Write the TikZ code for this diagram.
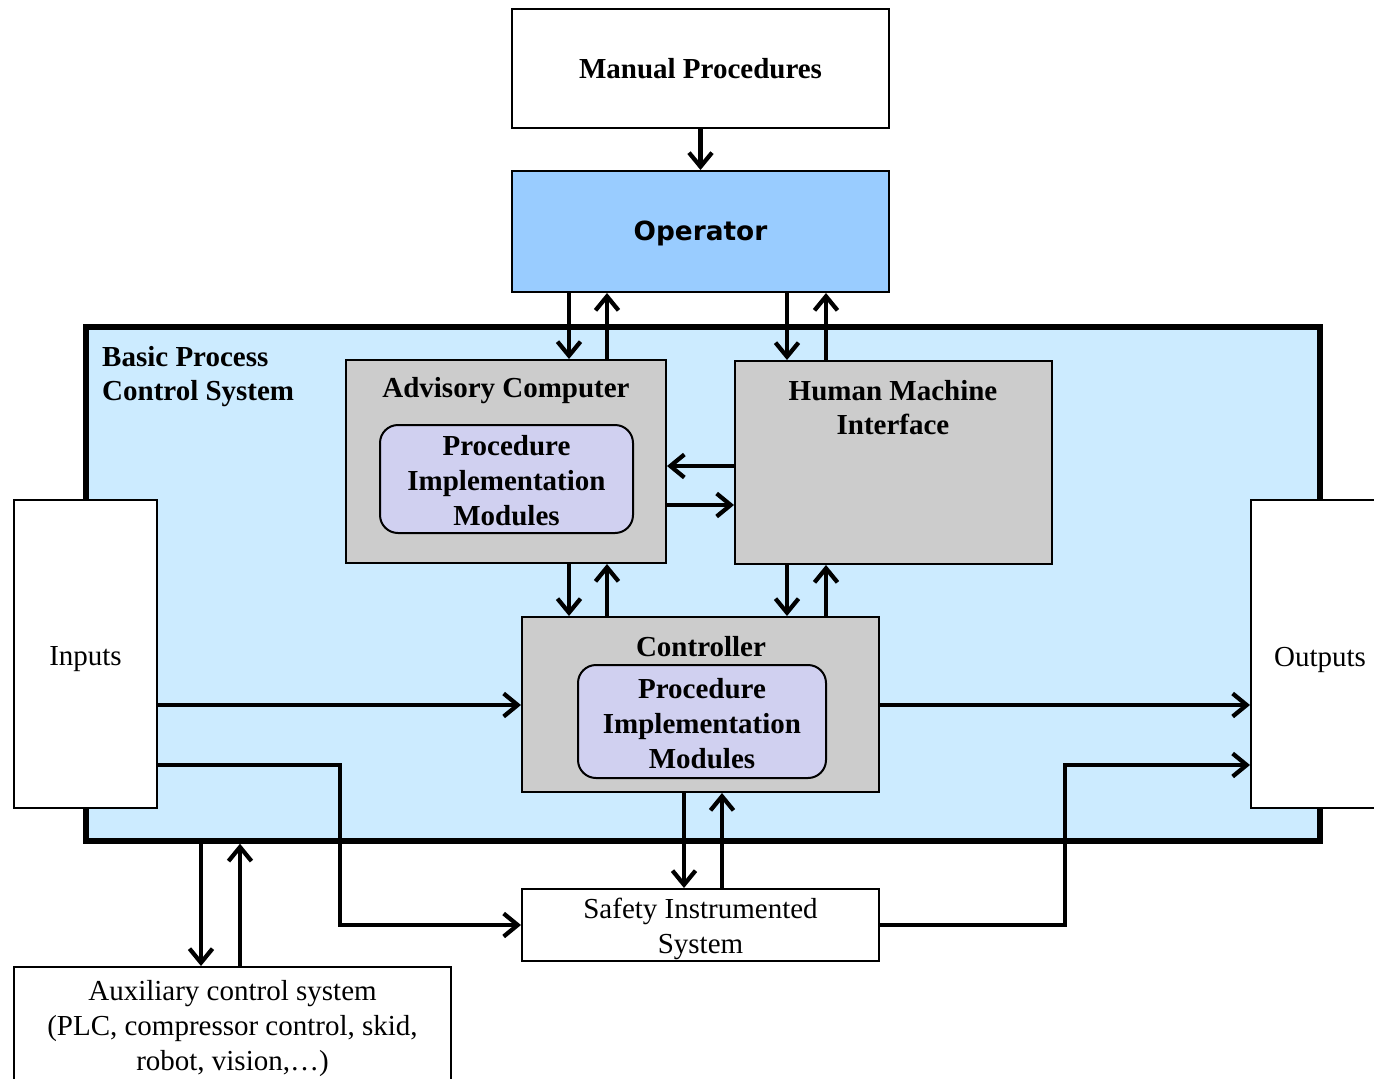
\documentclass[tikz,border=0pt]{standalone}
\usepackage{fontspec}
\setmainfont{Liberation Serif}
\newfontfamily\opfont{DejaVu Sans}
\usetikzlibrary{arrows.meta,calc}
\definecolor{bpcsblue}{HTML}{CCEBFF}
\definecolor{opblue}{HTML}{99CCFF}
\definecolor{boxgray}{HTML}{CCCCCC}
\definecolor{pimlav}{HTML}{D0D0F0}
\begin{document}
\begin{tikzpicture}[
  txt/.style={font=\fontsize{16.5pt}{19.8pt}\selectfont, align=center},
  btxt/.style={font=\fontsize{16.5pt}{19.8pt}\selectfont\bfseries, align=center},
  box/.style={draw=black, line width=0.04cm, inner sep=0pt, fill=white},
  graybox/.style={box, fill=boxgray},
  pimbox/.style={box, fill=pimlav, rounded corners=0.36cm},
  arr/.style={line width=0.085cm, -{Straight Barb[length=0.28cm,width=0.46cm]}},
]
\useasboundingbox (0,0) rectangle (27.48,-21.56);
\fill[white] (0,0) rectangle (27.48,-21.56);

% BPCS background
\node[draw=black, line width=0.11cm, fill=bpcsblue, inner sep=0pt,
      minimum width=24.68cm, minimum height=10.28cm] (bpcs) at (14.06,-11.68) {};
\node[btxt, align=left, anchor=west] (bpcslabel) at (1.92,-7.53) {Basic Process\\Control System};

% top boxes
\node[box, minimum width=7.54cm, minimum height=2.38cm, btxt] (manual) at (14.01,-1.37) {Manual Procedures};
\node[box, fill=opblue, minimum width=7.54cm, minimum height=2.42cm] (operator) at (14.01,-4.63) {};
\node[font=\opfont\fontsize{15pt}{17pt}\selectfont\bfseries] (optxt) at ($(operator.center)+(0,-0.04)$) {Operator};

% advisory computer
\node[graybox, minimum width=6.4cm, minimum height=4.06cm] (advisory) at (10.12,-9.23) {};
\node[btxt] (advtitle) at (10.12,-7.82) {Advisory Computer};
\node[pimbox, minimum width=5.06cm, minimum height=2.16cm] (pim1) at (10.13,-9.58) {};
\node[btxt] (pim1txt) at ($(pim1.center)+(0,-0.03)$) {Procedure\\Implementation\\Modules};

% HMI
\node[graybox, minimum width=6.34cm, minimum height=4.06cm] (hmi) at (17.87,-9.25) {};
\node[btxt] (hmititle) at (17.86,-8.15) {Human Machine\\Interface};

% controller
\node[graybox, minimum width=7.14cm, minimum height=3.5cm] (controller) at (14.01,-14.09) {};
\node[btxt] (ctitle) at (14.02,-12.93) {Controller};
\node[pimbox, minimum width=4.96cm, minimum height=2.26cm] (pim2) at (14.04,-14.43) {};
\node[btxt] (pim2txt) at ($(pim2.center)+(0,-0.04)$) {Procedure\\Implementation\\Modules};

% inputs / outputs
\node[box, minimum width=2.86cm, minimum height=6.16cm] (inputs) at (1.71,-13.08) {};
\node[txt] (inputstxt) at ($(inputs.center)+(0,-0.1)$) {Inputs};
\node[box, minimum width=2.76cm, minimum height=6.16cm] (outputs) at (26.4,-13.08) {};
\node[txt] (outputstxt) at ($(outputs.center)+(0,-0.12)$) {Outputs};

% SIS and aux
\node[box, minimum width=7.14cm, minimum height=1.44cm] (sis) at (14.01,-18.5) {};
\node[txt] (sistxt) at ($(sis.center)+(0,-0.08)$) {Safety Instrumented\\System};
\node[box, minimum width=8.74cm, minimum height=2.36cm] (aux) at (4.65,-20.52) {};
\node[txt] (auxtxt) at ($(aux.center)+(0,-0.05)$) {Auxiliary control system\\(PLC, compressor control, skid,\\robot, vision,\ldots)};

% helper coordinates
\coordinate (xa) at (11.38,0);
\coordinate (xb) at (12.14,0);
\coordinate (xc) at (15.74,0);
\coordinate (xd) at (16.52,0);
\coordinate (xe) at (13.68,0);
\coordinate (xf) at (14.44,0);
\coordinate (xg) at (4.02,0);
\coordinate (xh) at (4.8,0);
\coordinate (xL) at (6.8,0);
\coordinate (xR) at (21.3,0);
\coordinate (y1) at (0,-9.32);
\coordinate (y2) at (0,-10.1);
\coordinate (y3) at (0,-14.1);
\coordinate (y4) at (0,-15.3);

% connectors
\draw[arr] (manual.south) -- (operator.north);
\draw[arr] (operator.south -| xa) -- (advisory.north -| xa);
\draw[arr] (advisory.north -| xb) -- (operator.south -| xb);
\draw[arr] (operator.south -| xc) -- (hmi.north -| xc);
\draw[arr] (hmi.north -| xd) -- (operator.south -| xd);
\draw[arr] (hmi.west |- y1) -- (advisory.east |- y1);
\draw[arr] (advisory.east |- y2) -- (hmi.west |- y2);
\draw[arr] (advisory.south -| xa) -- (controller.north -| xa);
\draw[arr] (controller.north -| xb) -- (advisory.south -| xb);
\draw[arr] (hmi.south -| xc) -- (controller.north -| xc);
\draw[arr] (controller.north -| xd) -- (hmi.south -| xd);
\draw[arr] (inputs.east |- y3) -- (controller.west |- y3);
\draw[arr] (controller.east |- y3) -- (outputs.west |- y3);
\draw[arr] (controller.south -| xe) -- (sis.north -| xe);
\draw[arr] (sis.north -| xf) -- (controller.south -| xf);
\draw[arr] (inputs.east |- y4) -| (xL |- sis.west) -- (sis.west);
\draw[arr] (sis.east) -| (xR |- y4) -- (outputs.west |- y4);
\draw[arr] (bpcs.south -| xg) -- (aux.north -| xg);
\draw[arr] (aux.north -| xh) -- (bpcs.south -| xh);
\end{tikzpicture}
\end{document}
